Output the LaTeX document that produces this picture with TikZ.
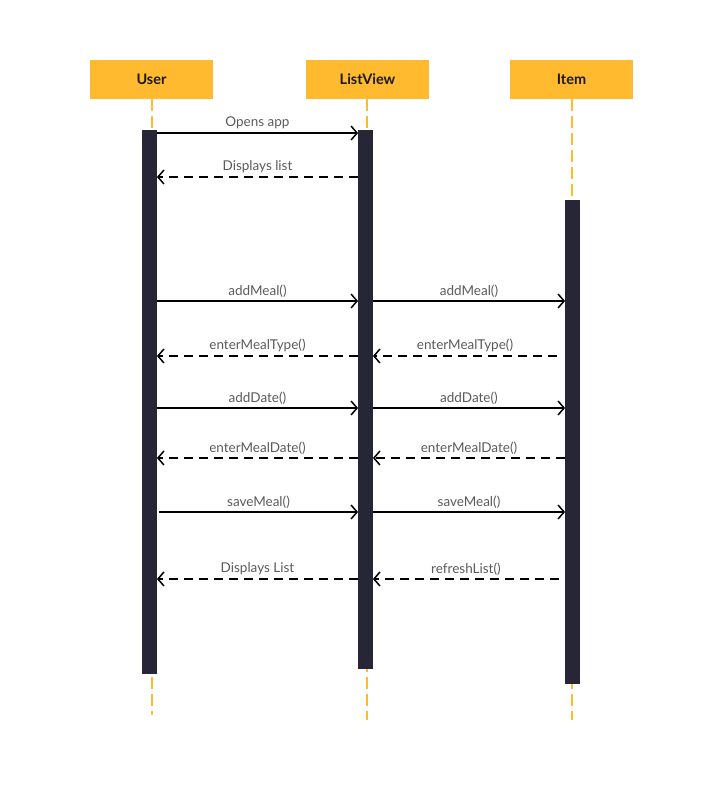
\documentclass[tikz,border=0pt]{standalone}
\usepackage{fontspec}
\setmainfont{Lato}
\usepackage{tikz}
\usetikzlibrary{arrows.meta, positioning}

\definecolor{headfill}{HTML}{FFBA30}
\definecolor{barfill}{HTML}{262637}
\definecolor{lblgray}{HTML}{5A5A5A}

\tikzset{
  head/.style={fill=headfill, minimum width=123pt, minimum height=39pt, inner sep=0pt, font=\bfseries\fontsize{14.5}{16}\selectfont, text=black!90},
  life/.style={draw=headfill, line width=2pt, dash pattern=on 12pt off 5pt},
  actbar/.style={fill=barfill, minimum width=14.5pt, inner sep=0pt, anchor=north},
  call/.style={line width=1.5pt, -{Straight Barb[length=6pt, width=14pt, line width=1.5pt]}},
  reply/.style={call, dash pattern=on 9pt off 6pt},
  lbl/.style={above=2pt, text=lblgray, font=\fontsize{13.5}{15}\selectfont, inner sep=1pt}
}

\begin{document}
\begin{tikzpicture}[x=1pt, y=-1pt]
				\useasboundingbox (0, 0) rectangle (710, 785);

				\node (User) [head] at (151.5, 79.5) {User};
				\node (ListView) [head] at (367.5, 79.5) {ListView};
				\node (Item) [head] at (571.5, 79.5) {Item};

				\coordinate (UserTop) at (152, 99);
				\coordinate (UserEnd) at (152, 715);
				\coordinate (ListTop) at (367, 99);
				\coordinate (ListEnd) at (367, 720);
				\coordinate (ItemTop) at (572, 99);
				\coordinate (ItemEnd) at (572, 720);
				\draw [life] (UserTop) -- (UserEnd);
				\draw [life] (ListTop) -- (ListEnd);
				\draw [life] (ItemTop) -- (ItemEnd);

				\node (UserBar) [actbar, minimum height=544pt] at (149.5, 130) {};
				\node (ListBar) [actbar, minimum height=539pt] at (365.5, 130) {};
				\node (ItemBar) [actbar, minimum height=484pt] at (572.5, 200) {};

				\coordinate (R1) at (0, 133);
				\coordinate (R2) at (0, 177);
				\coordinate (R3) at (0, 301);
				\coordinate (R4) at (0, 356);
				\coordinate (R5) at (0, 408);
				\coordinate (R6) at (0, 458);
				\coordinate (R7) at (0, 512);
				\coordinate (R8) at (0, 579);

				\draw [call] (UserBar.east |- R1) -- node [lbl] {Opens app} (ListBar.west |- R1);
				\draw [reply] (ListBar.west |- R2) -- node [lbl] {Displays list} (UserBar.east |- R2);

				\draw [call] (UserBar.east |- R3) -- node [lbl] {addMeal()} (ListBar.west |- R3);
				\draw [call] (ListBar.east |- R3) -- node [lbl] {addMeal()} (ItemBar.west |- R3);

				\draw [reply] ([xshift=-8pt]ItemBar.west |- R4) -- node [lbl] {enterMealType()} (ListBar.east |- R4);
				\draw [reply] (ListBar.west |- R4) -- node [lbl] {enterMealType()} (UserBar.east |- R4);

				\draw [call] (UserBar.east |- R5) -- node [lbl] {addDate()} (ListBar.west |- R5);
				\draw [call] (ListBar.east |- R5) -- node [lbl] {addDate()} (ItemBar.west |- R5);

				\draw [reply] (ItemBar.west |- R6) -- node [lbl] {enterMealDate()} (ListBar.east |- R6);
				\draw [reply] (ListBar.west |- R6) -- node [lbl] {enterMealDate()} (UserBar.east |- R6);

				\draw [call] ([xshift=2pt]UserBar.east |- R7) -- node [lbl] {saveMeal()} (ListBar.west |- R7);
				\draw [call] (ListBar.east |- R7) -- node [lbl] {saveMeal()} (ItemBar.west |- R7);

				\draw [reply] ([xshift=-6pt]ItemBar.west |- R8) -- node [lbl] {refreshList()} (ListBar.east |- R8);
				\draw [reply] (ListBar.west |- R8) -- node [lbl] {Displays List} (UserBar.east |- R8);
			\end{tikzpicture}
\end{document}
